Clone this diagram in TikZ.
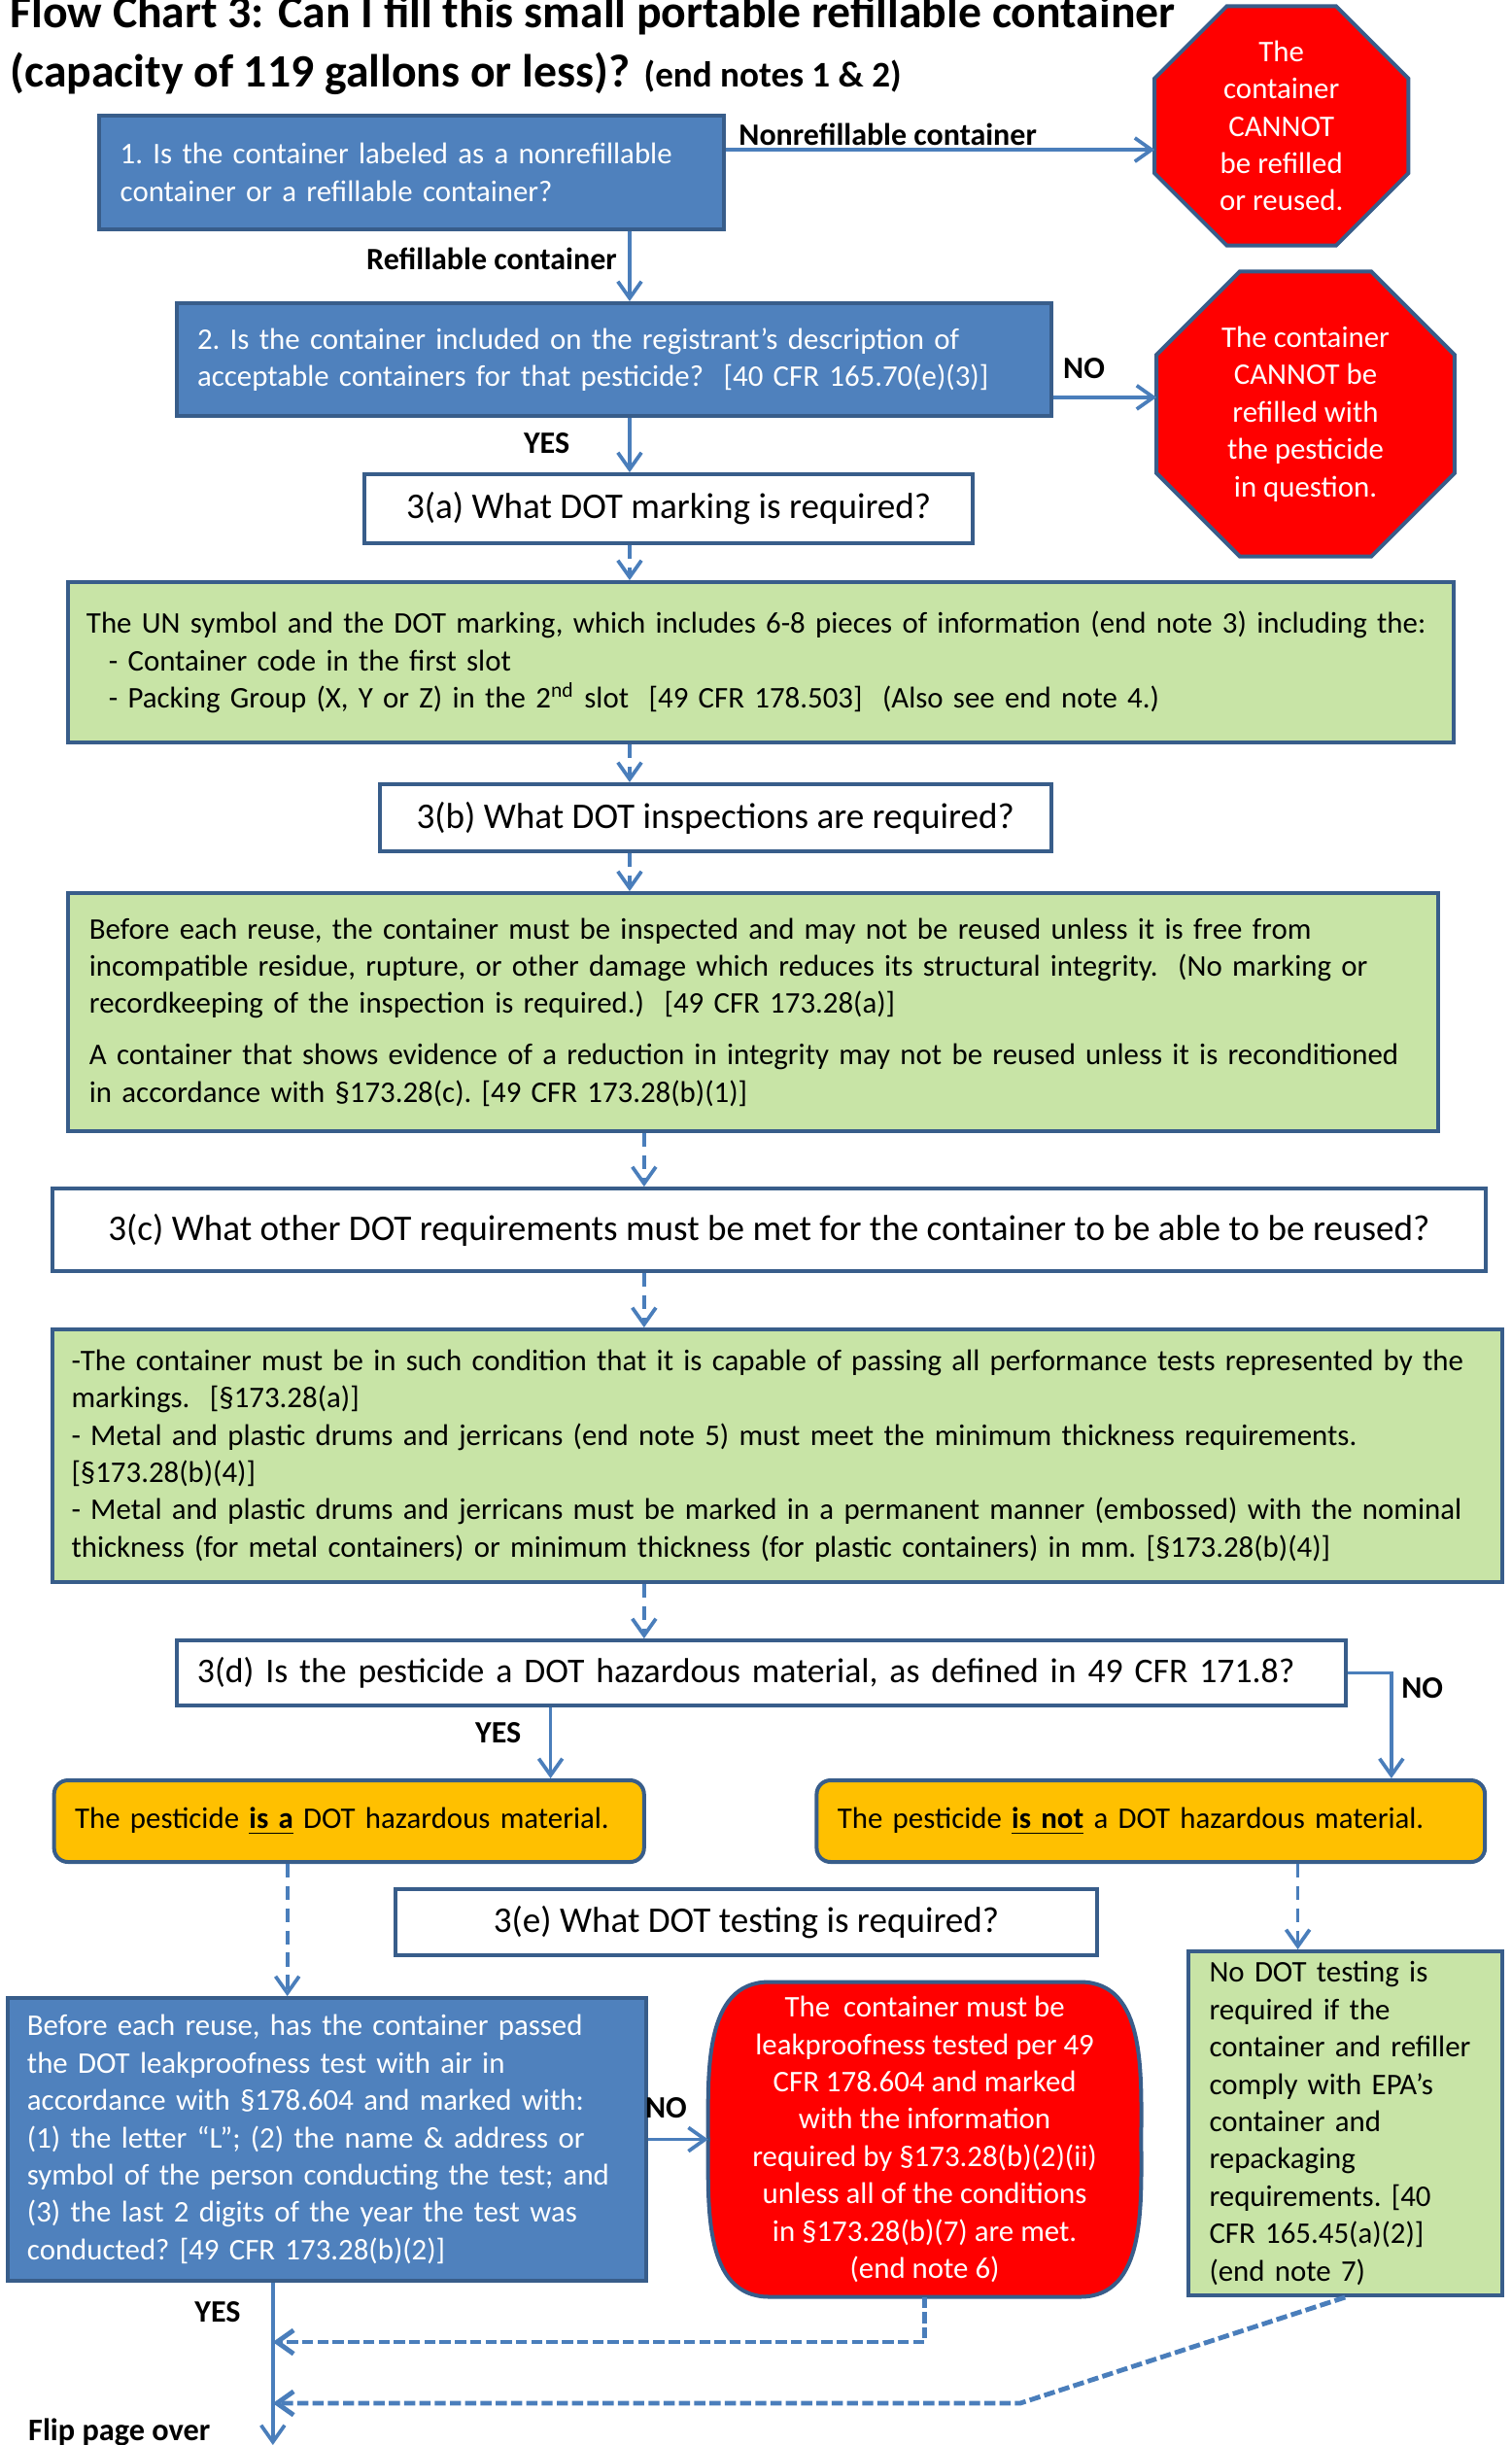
\documentclass[tikz,border=0pt]{standalone}
\usepackage{fontspec}
\setmainfont{Carlito}
\usetikzlibrary{positioning,arrows.meta,backgrounds}

\definecolor{qblue}{HTML}{4F81BD}
\definecolor{qedge}{HTML}{385D8A}
\definecolor{qline}{HTML}{4A7EBB}
\definecolor{qgreen}{RGB}{200,228,166}
\definecolor{qorange}{HTML}{FFC000}
\definecolor{qred}{HTML}{FF0000}

\newcommand\bodyfont{\fontsize{10.8}{13.45}\selectfont\frenchspacing}
\newcommand\askfont{\fontsize{13}{15.9}\selectfont\frenchspacing}

\tikzset{
	box/.style={draw=qedge, line width=1.4pt, inner xsep=7.5pt, inner ysep=0pt, font=\bodyfont},
	bluebox/.style={box, fill=qblue, text=white, align=left},
	greenbox/.style={box, fill=qgreen, align=left},
	askbox/.style={box, fill=white, align=center, font=\askfont},
	hazbox/.style={box, fill=qorange, rounded corners=5pt, align=left},
	stoptext/.style={text=white, align=center, font=\bodyfont, inner sep=0pt},
	stopfill/.style={fill=qred, draw=qedge, line width=1.4pt},
	conn/.style={draw=qline, line width=1.3pt, -{Straight Barb[length=6pt,width=8.5pt]}},
	dconn/.style={conn, dash pattern=on 5pt off 3pt},
	wconn/.style={conn, line width=1.7pt, dash pattern=on 4pt off 1.5pt},
	lbl/.style={font=\fontsize{11.2}{13}\selectfont\bfseries, inner sep=1pt}
}

% octagon round a node: #1 node, #2 corner cut
\newcommand\stopsign[2]{%
	\filldraw[stopfill] ([xshift=#2]#1.north west) -- ([xshift=-#2]#1.north east)
		-- ([yshift=-#2]#1.north east) -- ([yshift=#2]#1.south east)
		-- ([xshift=-#2]#1.south east) -- ([xshift=#2]#1.south west)
		-- ([yshift=#2]#1.south west) -- ([yshift=-#2]#1.north west) -- cycle;}

\begin{document}
\begin{tikzpicture}[x=0.3473pt, y=-0.35pt]
	
	\useasboundingbox (0,0) rectangle (1568,2516);
	
	% title
	\node[anchor=base west, inner sep=0, font=\fontsize{16.7}{20}\selectfont\bfseries] (title1) at (10,28) {Flow Chart 3: Can I fill this small portable refillable container};
	\node[anchor=base west, inner sep=0, font=\fontsize{16.7}{20}\selectfont\bfseries] (title2) at (10,89) {(capacity of 119 gallons or less)? {\fontsize{13}{15}\selectfont (end notes 1 \& 2)}};
	
	% vertical lanes of the connectors
	\coordinate (laneA) at (653,0);
	\coordinate (laneB) at (668,0);
	\coordinate (laneC) at (571,0);
	\coordinate (laneD) at (1443,0);
	\coordinate (laneE) at (298,0);
	\coordinate (laneF) at (1346,0);
	\coordinate (flip) at (283,2516);
	\coordinate (merge1) at (283,2410);
	\coordinate (bend) at (1058,2473);
	\coordinate (merge2) at (283,2473);
	
	\node[bluebox, text width=210pt, minimum height=41pt] (b1) at (427,177.5) {1. Is the container labeled as a nonrefillable\\container or a refillable container?};
	\node[stoptext, minimum width=91pt, minimum height=85.75pt] (o1) at (1329,129.5) {The\\container\\CANNOT\\be refilled\\or reused.};
	
	\node[bluebox, text width=300pt, minimum height=40.6pt] (b2) at (636.5,370) {2. Is the container included on the registrant’s description of\\acceptable containers for that pesticide?\ \ [40 CFR 165.70(e)(3)]};
	\node[stoptext, minimum width=107pt, minimum height=102.2pt] (o2) at (1354,426) {The container\\CANNOT be\\refilled with\\the pesticide\\in question.};
	
	\node[askbox, minimum width=219.1pt, minimum height=24.8pt] (q3a) at (693.5,523.5) {3(a) What DOT marking is required?};
	\node[greenbox, inner xsep=6.5pt, text width=486.1pt, minimum height=57.7pt] (gA) at (789.5,681.5) {The UN symbol and the DOT marking, which includes 6-8 pieces of information (end note 3) including the:\\\hspace*{8pt}- Container code in the first slot\\\hspace*{8pt}- Packing Group (X, Y or Z) in the 2\textsuperscript{nd} slot\ \ [49 CFR 178.503]\ \ (Also see end note 4.)};
	
	\node[askbox, minimum width=241.7pt, minimum height=24.2pt] (q3b) at (742,841.5) {3(b) What DOT inspections are required?};
	\node[greenbox, text width=478.5pt, minimum height=85.7pt] (gB) at (781.5,1041.5) {Before each reuse, the container must be inspected and may not be reused unless it is free from\\incompatible residue, rupture, or other damage which reduces its structural integrity.\ \ (No marking or\\recordkeeping of the inspection is required.)\ \ [49 CFR 173.28(a)]\\[5pt]A container that shows evidence of a reduction in integrity may not be reused unless it is reconditioned\\in accordance with §173.28(c). [49 CFR 173.28(b)(1)]};
	
	\node[askbox, minimum width=516.4pt, minimum height=29.7pt] (q3c) at (797.5,1265.5) {3(c) What other DOT requirements must be met for the container to be able to be reused?};
	\node[greenbox, inner xsep=7pt, text width=508.4pt, minimum height=91pt] (gC) at (806,1498) {-The container must be in such condition that it is capable of passing all performance tests represented by the\\markings.\ \ [§173.28(a)]\\- Metal and plastic drums and jerricans (end note 5) must meet the minimum thickness requirements.\\{}[§173.28(b)(4)]\\- Metal and plastic drums and jerricans must be marked in a permanent manner (embossed) with the nominal\\thickness (for metal containers) or minimum thickness (for plastic containers) in mm. [§173.28(b)(4)]};
	
	\node[askbox, align=left, text width=406.3pt, minimum height=23.4pt, font=\fontsize{12.5}{15}\selectfont] (q3d) at (789.5,1721.5) {\mbox{3(d) Is the pesticide a DOT hazardous material, as defined in 49 CFR 171.8?}};
	\node[hazbox, text width=197.5pt, minimum height=29.4pt] (or1) at (362,1874) {The pesticide \underline{\textbf{is a}} DOT hazardous material.};
	\node[hazbox, text width=225.7pt, minimum height=29.4pt] (or2) at (1193.5,1874) {The pesticide \underline{\textbf{is not}} a DOT hazardous material.};
	
	\node[askbox, minimum width=252.8pt, minimum height=23.8pt] (q3e) at (774,1978) {3(e) What DOT testing is required?};
	\node[bluebox, inner xsep=7pt, text width=215.9pt, minimum height=101.8pt] (blue3) at (339,2201.5) {Before each reuse, has the container passed\\the DOT leakproofness test with air in\\accordance with §178.604 and marked with:\\(1) the letter “L”; (2) the name \& address or\\symbol of the person conducting the test; and\\(3) the last 2 digits of the year the test was\\conducted? [49 CFR 173.28(b)(2)]};
	\node[stoptext, minimum width=155.6pt, minimum height=113pt] (red) at (959,2201.5) {The\ \ container must be\\leakproofness tested per 49\\CFR 178.604 and marked\\with the information\\required by §173.28(b)(2)(ii)\\unless all of the conditions\\in §173.28(b)(7) are met.\\(end note 6)};
	\node[greenbox, inner xsep=7.7pt, text width=97.8pt, minimum height=123.9pt] (gD) at (1395,2185) {No DOT testing is\\required if the\\container and refiller\\comply with EPA’s\\container and\\repackaging\\requirements. [40\\CFR 165.45(a)(2)]\\(end note 7)};
	
	\begin{scope}[on background layer]
		\stopsign{o1}{26pt}
		\stopsign{o2}{30pt}
		\filldraw[stopfill] ([xshift=22pt]red.north west) -- ([xshift=-22pt]red.north east)
			to[out=0,in=90] (red.east) to[out=-90,in=0] ([xshift=-22pt]red.south east)
			-- ([xshift=22pt]red.south west) to[out=180,in=-90] (red.west)
			to[out=90,in=180] ([xshift=22pt]red.north west) -- cycle;
	\end{scope}
	
	% connectors
	\draw[conn] ([yshift=8.2pt]b1.east) -- node[lbl, above right, xshift=3pt, pos=0] (nonref) {Nonrefillable container} ([yshift=8.2pt]b1.east -| o1.west);
	\draw[conn] (b1.south -| laneA) -- node[lbl, left=3pt, pos=0.4] (refill) {Refillable container} (b2.north -| laneA);
	\draw[conn] ([yshift=-13.6pt]b2.east) -- node[lbl, above=5pt, pos=0.3] (no1) {NO} ([yshift=-13.6pt]b2.east -| o2.west);
	\draw[conn] (b2.south -| laneA) -- node[lbl, left=20pt, pos=0.47] (yes1) {YES} (q3a.north -| laneA);
	\draw[dconn] (q3a.south -| laneA) -- (gA.north -| laneA);
	\draw[dconn] (gA.south -| laneA) -- (q3b.north -| laneA);
	\draw[dconn] (q3b.south -| laneA) -- (gB.north -| laneA);
	\draw[dconn] (gB.south -| laneB) -- (q3c.north -| laneB);
	\draw[dconn] (q3c.south -| laneB) -- (gC.north -| laneB);
	\draw[dconn] (gC.south -| laneB) -- (q3d.north -| laneB);
	\draw[conn] (q3d.south -| laneC) -- node[lbl, left=9pt, pos=0.36] (yes2) {YES} (or1.north -| laneC);
	\draw[conn] (q3d.east) -| node[lbl, right=2pt, pos=0.57] (no2) {NO} (or2.north -| laneD);
	\draw[dconn] (or1.south -| laneE) -- (blue3.north -| laneE);
	\draw[dconn] (or2.south -| laneF) -- (gD.north -| laneF);
	\draw[conn] (blue3.east) -- node[lbl, above=6pt, pos=0.3] (no3) {NO} (red.west);
	\draw[conn] (blue3.south -| flip) -- node[lbl, left=10pt, pos=0.18] (yes3) {YES} (flip);
	\draw[wconn] (red.south) |- (merge1);
	\draw[wconn] (gD.south) -- (bend) -- (merge2);
	
	\node[lbl, anchor=west, font=\fontsize{11.3}{14}\selectfont\bfseries] (fliptext) at (26,2503) {Flip page over};
	
\end{tikzpicture}
\end{document}
